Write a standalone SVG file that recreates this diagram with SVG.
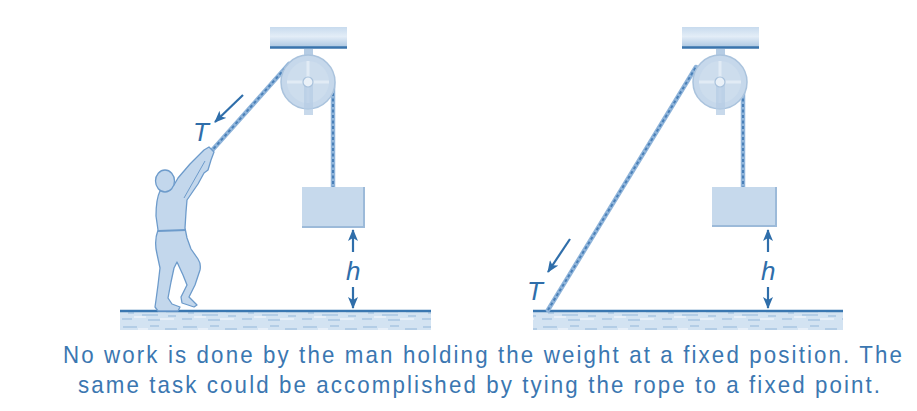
<svg xmlns="http://www.w3.org/2000/svg" width="917" height="411" viewBox="0 0 917 411">
<style>
.lbl{font-family:"Liberation Sans",Arial,sans-serif;fill:#2f6eaa;font-style:italic}
.cap{font-family:"Liberation Sans",Arial,sans-serif;font-size:24px;fill:#3b77b1}
.rope{fill:none;stroke:#8fb4da;stroke-width:4.5;stroke-linecap:round}
.twist{fill:none;stroke:#4a80b8;stroke-width:2;stroke-dasharray:3 2.5}
.arr{fill:none;stroke:#2f6eaa;stroke-width:2.2}
.box{fill:#c6d9ec}
.boxedge{fill:none;stroke:#9cbad9;stroke-width:2}
.wheel{fill:#c6d8eb;stroke:#aac3dd;stroke-width:1.5}
.spoke{stroke:#e1ebf5;stroke-width:3}
.brk{fill:#b5cce4}
.floorline{stroke:#3a77b1;stroke-width:2.6}
.body{fill:#c3d7ec;stroke:#6d9bcb;stroke-width:1.3;stroke-linejoin:round}
</style>
<defs>
<linearGradient id="ceil" x1="0" y1="0" x2="0" y2="1">
<stop offset="0" stop-color="#c8dbee"/>
<stop offset="0.45" stop-color="#e3edf7"/>
<stop offset="1" stop-color="#a8c4e0"/>
</linearGradient>
<pattern id="grain" width="60" height="19" patternUnits="userSpaceOnUse">
<rect width="60" height="19" fill="#d3e3f2"/>
<path d="M3,4 h14 M30,3 h9 M45,6 h12 M8,9 h6 M22,11 h16 M48,12 h8 M2,15 h10 M28,16 h12" stroke="#a9c6e3" stroke-width="1.4"/>
<path d="M18,6 h10 M38,8 h8 M14,13 h12 M40,15 h14" stroke="#eef4fa" stroke-width="1.4"/>
</pattern>
<marker id="ah" viewBox="0 0 12 10" refX="11" refY="5" markerWidth="12" markerHeight="10" markerUnits="userSpaceOnUse" orient="auto">
<path d="M0,0 L12,5 L0,10 L3,5 Z" fill="#2f6eaa"/>
</marker>
</defs>
<rect width="917" height="411" fill="#ffffff"/>

<g id="floor-left">
<rect x="120" y="311" width="311" height="19" fill="url(#grain)"/>
<line class="floorline" x1="120" y1="311" x2="431" y2="311"/>
</g>
<g id="floor-right">
<rect x="533" y="311" width="310" height="19" fill="url(#grain)"/>
<line class="floorline" x1="533" y1="311" x2="843" y2="311"/>
</g>

<g id="ceiling-left">
<rect x="270" y="27" width="77" height="21" fill="url(#ceil)"/>
<line x1="270" y1="47.5" x2="347" y2="47.5" stroke="#3a74ad" stroke-width="2.5"/>
</g>
<g id="ceiling-right">
<rect x="682" y="27" width="77" height="21" fill="url(#ceil)"/>
<line x1="682" y1="47.5" x2="759" y2="47.5" stroke="#3a74ad" stroke-width="2.5"/>
</g>

<g id="connectors">
<line class="rope" x1="199" y1="165" x2="289" y2="64"/>
<line class="twist" x1="199" y1="165" x2="289" y2="64"/>
<line class="rope" x1="333" y1="82" x2="333" y2="188"/>
<line class="twist" x1="333" y1="82" x2="333" y2="188"/>
<line class="rope" x1="548" y1="310" x2="696" y2="67"/>
<line class="twist" x1="548" y1="310" x2="696" y2="67"/>
<line class="rope" x1="743" y1="82" x2="743" y2="188"/>
<line class="twist" x1="743" y1="82" x2="743" y2="188"/>
<line class="arr" x1="243" y1="95" x2="215" y2="122" marker-end="url(#ah)"/>
<line class="arr" x1="570" y1="239" x2="548" y2="272" marker-end="url(#ah)"/>
<line class="arr" x1="353" y1="252" x2="353" y2="230" marker-end="url(#ah)"/>
<line class="arr" x1="353" y1="287" x2="353" y2="308" marker-end="url(#ah)"/>
<line class="arr" x1="768" y1="252" x2="768" y2="230" marker-end="url(#ah)"/>
<line class="arr" x1="768" y1="287" x2="768" y2="308" marker-end="url(#ah)"/>
</g>

<g id="pulley-left">
<rect class="brk" x="304" y="49" width="9" height="12"/>
<circle class="wheel" cx="308" cy="82" r="27"/>
<circle cx="308" cy="82" r="21" fill="#cddded"/>
<line class="spoke" x1="287" y1="82" x2="329" y2="82"/>
<line class="spoke" x1="308" y1="61" x2="308" y2="103"/>
<rect class="brk" x="304" y="82" width="9" height="33" opacity="0.75"/>
<circle cx="308" cy="82" r="5" fill="#eaf1f8" stroke="#a9c2dc" stroke-width="1.2"/>
</g>
<g id="pulley-right">
<rect class="brk" x="716" y="49" width="9" height="12"/>
<circle class="wheel" cx="720" cy="82" r="27"/>
<circle cx="720" cy="82" r="21" fill="#cddded"/>
<line class="spoke" x1="699" y1="82" x2="741" y2="82"/>
<line class="spoke" x1="720" y1="61" x2="720" y2="103"/>
<rect class="brk" x="716" y="82" width="9" height="33" opacity="0.75"/>
<circle cx="720" cy="82" r="5" fill="#eaf1f8" stroke="#a9c2dc" stroke-width="1.2"/>
</g>

<g id="weight-left">
<rect class="box" x="302" y="187" width="63" height="41"/>
<polyline class="boxedge" points="364,187 364,227 302,227"/>
</g>
<g id="weight-right">
<rect class="box" x="712" y="187" width="65" height="40"/>
<polyline class="boxedge" points="776,187 776,226 712,226"/>
</g>

<g id="man">
<path class="body" d="M160,191 C157,197 156,206 156,216 L158,230 C155,238 155,246 157,254 L160,268 L158,285 L156,300 L155,307 L158,311 L178,311 L180,307 L172,304 L168,298 L171,282 L174,268 L177,262 L183,275 L187,285 L181,297 L182,303 L194,307 L197,305 L192,300 L189,297 L195,285 L200,270 C201,265 200,262 198,259 L191,249 L187,238 L185,228 L186,212 L187,200 L198,184 L204,173 L208,170 L211,160 L214,152 L209,147 L204,150 L190,164 L178,178 L174,185 L168,190 Z"/>
<ellipse class="body" cx="165" cy="181" rx="9.5" ry="11"/>
<line x1="158" y1="231" x2="186" y2="230" stroke="#6d9bcb" stroke-width="2"/>
<path d="M184,198 L205,161" stroke="#6d9bcb" stroke-width="1" fill="none"/>
</g>

<g id="labels">
<text class="lbl" x="193" y="141" font-size="26">T</text>
<text class="lbl" x="527" y="300" font-size="26">T</text>
<text class="lbl" x="346" y="280" font-size="26">h</text>
<text class="lbl" x="761" y="280" font-size="26">h</text>
</g>

<g id="caption" transform="scale(0.93,1)">
<text class="cap" x="67.7" y="363" textLength="902.2" lengthAdjust="spacing">No work is done by the man holding the weight at a fixed position. The</text>
<text class="cap" x="83.9" y="393" textLength="862.4" lengthAdjust="spacing">same task could be accomplished by tying the rope to a fixed point.</text>
</g>
</svg>
